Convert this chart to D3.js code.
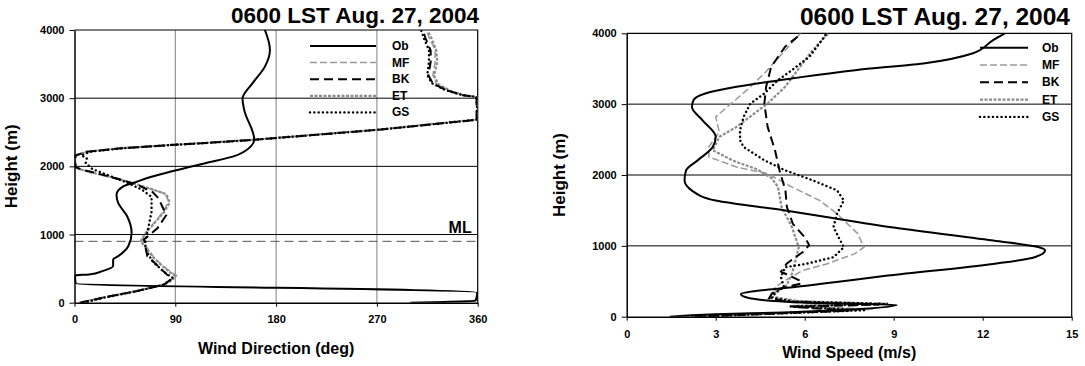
<!DOCTYPE html>
<html>
<head>
<meta charset="utf-8">
<style>
  body { margin: 0; background: #fff; }
  svg { display: block; font-family: "Liberation Sans", Arial, sans-serif; }
  .axis text { font-size: 11px; font-weight: bold; fill: #000; }
  .axis line { stroke: #000; }
  .axis path { stroke: #000; stroke-width: 1.5px; }
  .title { font-weight: bold; }
  .label { font-size: 16px; font-weight: bold; }
  .legend text { font-size: 12px; font-weight: bold; }
  .line { fill: none; }
</style>
</head>
<body>
<script src="https://d3js.org/d3.v7.min.js"></script>
<script>
// series order in the legends
var seriesNames = ["Ob", "MF", "BK", "ET", "GS"];

var heightTicks = [0, 1000, 2000, 3000, 4000];
var dirTicks = [0, 90, 180, 270, 360];
var speedTicks = [0, 3, 6, 9, 12, 15];
var mixedLayer = 900;   // ML height (m)

// wind direction (deg), height (m) -- raw 0..360 values, wraps drawn straight across like the original
var dirOb = [[300,0],[330,12],[358,30],[359,80],[359.5,150],[1,285],[0.5,400],[13,415],[25,463],[34.5,537],[34.5,634],[39,683],[48,829],[51,1024],[47,1268],[39,1463],[37.5,1585],[43.5,1707],[54.5,1766],[65,1829],[87,1927],[117.5,2049],[142,2146],[157.5,2293],[160.5,2390],[151.5,2829],[150,2990],[159,3220],[170,3463],[174.5,3707],[170,4000]];
var dirMF = [[4,2],[24,75],[55,175],[79,268],[86,330],[91,400],[82,500],[72,640],[66,780],[60,900],[62,1000],[70,1150],[79,1330],[84,1480],[81,1600],[70,1660],[53,1750],[36,1830],[18,1900],[3,1965],[0.5,2000],[0.5,2150],[11,2214],[41,2265],[85,2313],[112,2338],[161,2392],[272,2540],[359.5,2686],[359.5,2850],[359.5,3015],[348,3040],[335,3110],[323,3210],[320,3340],[322,3534],[322,3705],[317,3877],[314,4000]];
var dirBK = [[5,0],[25,72],[56,172],[80,266],[85,330],[84,390],[77.6,490],[68,640],[65,683],[62,927],[74,1091],[82,1286],[75,1531],[70,1620],[56,1730],[40,1810],[22,1890],[6,1955],[1,1990],[1,2160],[11,2214],[41,2264],[85,2312],[112,2337],[161,2390],[272,2537],[359,2683],[359,2850],[359,3018],[347,3042],[332,3115],[320,3215],[316,3335],[318,3530],[318,3700],[313.5,3875],[311,4000]];
var dirET = [[6,0],[26,72],[56,172],[80,266],[87,325],[90,390],[81,500],[71,650],[64,800],[59,900],[63,1010],[71,1160],[80,1330],[85,1470],[82,1590],[71,1655],[54,1745],[37,1825],[19,1895],[4,1960],[0.5,1990],[0.5,2160],[11,2216],[41,2266],[85,2314],[112,2339],[161,2393],[272,2541],[359.5,2688],[359.5,2850],[359.5,3010],[349,3036],[336,3105],[325,3205],[321,3330],[324,3534],[323,3700],[319,3870],[315,4000]];
var dirGS = [[8,0],[25,70],[56,170],[80,265],[84,320],[88,360],[80,450],[70,600],[64,760],[63,870],[65.8,1091],[68.8,1334],[68.8,1554],[60,1660],[47,1760],[30,1870],[16,1960],[10,2050],[11,2120],[6,2160],[14,2215],[41,2262],[85,2310],[112,2336],[161,2390],[272,2537],[359,2683],[359.5,2850],[358.5,3020],[346,3047],[331,3120],[319,3220],[315,3340],[316.5,3534],[316.5,3705],[312,3877],[309.5,4000]];

// wind speed (m/s), height (m)
var spdOb = [[1.45,0],[3.0,35],[5.3,60],[7.7,105],[9.1,165],[5.9,200],[4.05,270],[3.85,320],[4.4,365],[5.6,415],[6.5,460],[8.8,580],[12.35,745],[13.75,840],[14.1,935],[13.9,980],[12.35,1075],[8.85,1265],[5.35,1500],[3.0,1640],[2.2,1780],[1.95,1925],[2.0,2065],[2.4,2210],[2.9,2395],[3.0,2540],[2.55,2775],[2.2,2960],[2.25,3055],[2.65,3150],[3.7,3245],[5.6,3365],[7.7,3480],[10.0,3575],[11.65,3715],[12.35,3905],[12.75,4000]];
var spdMF = [[2.2,5],[5.0,45],[8.3,105],[5.8,150],[8.8,190],[6.0,215],[4.8,260],[5.0,330],[5.0,415],[5.34,510],[5.92,651],[6.74,745],[7.68,887],[8.0,981],[7.79,1170],[7.09,1453],[6.5,1642],[5.57,1830],[4.75,2019],[3.7,2113],[2.77,2255],[2.77,2396],[3.12,2608],[3.0,2821],[4.05,3198],[4.64,3434],[5.86,4000]];
var spdBK = [[2.3,0],[4.5,35],[7.5,85],[5.6,140],[8.5,170],[5.4,210],[4.8,260],[4.9,330],[5.2,400],[5.9,470],[5.8,518],[5.2,635],[5.4,753],[5.95,917],[6.15,1011],[6.0,1123],[5.6,1311],[5.4,1547],[5.35,1783],[5.15,2066],[5.0,2349],[4.75,2679],[4.64,3009],[4.7,3245],[4.87,3528],[5.34,3811],[5.9,4000]];
var spdET = [[2.0,0],[4.2,35],[7.8,95],[5.5,150],[8.0,185],[5.8,220],[4.9,280],[5.1,360],[5.4,450],[5.57,604],[5.69,792],[5.8,981],[5.57,1264],[5.22,1547],[5.1,1830],[4.9,1950],[4.4,2080],[3.6,2200],[2.9,2350],[3.12,2538],[3.7,2679],[4.75,3009],[5.34,3245],[6.27,3764],[6.8,4000]];
var spdGS = [[2.5,0],[4.8,40],[8.0,90],[5.5,145],[8.8,180],[5.6,215],[4.9,270],[5.0,340],[5.3,415],[5.2,557],[5.34,698],[6.04,745],[6.97,840],[7.32,981],[7.2,1075],[6.97,1264],[7.09,1453],[7.32,1642],[7.09,1783],[6.27,1925],[5.34,2066],[4.64,2208],[3.94,2396],[3.82,2491],[3.82,2632],[3.94,2821],[4.17,3009],[4.64,3151],[5.1,3340],[5.57,3481],[6.16,3670],[6.5,3858],[6.74,4000]];

var styles = {
  Ob: {stroke: "#000", width: 2, dash: null, cap: "butt"},
  MF: {stroke: "#9a9a9a", width: 1.5, dash: "7,3", cap: "butt"},
  BK: {stroke: "#000", width: 2, dash: "9,5", cap: "butt"},
  ET: {stroke: "#8c8c8c", width: 2.2, dash: "3,1.5", cap: "butt"},
  GS: {stroke: "#000", width: 2.4, dash: "0.1,4.2", cap: "round"}
};

var svg = d3.select("body").append("svg")
    .attr("width", 1085)
    .attr("height", 366);

function drawPanel(p) {
  var x = d3.scaleLinear().domain(p.xDomain).range([p.left, p.right]);
  var y = d3.scaleLinear().domain([0, 4000]).range([p.bottom, p.top]);
  var g = svg.append("g");

  g.append("clipPath").attr("id", p.id + "clip")
    .append("rect")
    .attr("x", p.left).attr("y", p.top)
    .attr("width", p.right - p.left).attr("height", p.bottom - p.top);

  // vertical grid (direction panel only)
  g.selectAll(".vgrid").data(p.vGrid).enter().append("line")
      .attr("x1", d => x(d)).attr("x2", d => x(d))
      .attr("y1", p.top).attr("y2", p.bottom)
      .attr("stroke", "#808080").attr("stroke-width", 1);

  // horizontal grid
  g.selectAll(".hgrid").data(heightTicks.slice(1, 4)).enter().append("line")
      .attr("x1", p.left).attr("x2", p.right)
      .attr("y1", d => y(d)).attr("y2", d => y(d))
      .attr("stroke", "#000").attr("stroke-width", 1);

  // top and right frame
  g.append("path")
      .attr("d", "M" + p.left + "," + y(4000) + "H" + x(p.xDomain[1]) + "V" + y(0))
      .attr("fill", "none").attr("stroke", "#000").attr("stroke-width", 1.2);

  if (p.ml) {
    g.append("line")
        .attr("x1", p.left).attr("x2", p.right)
        .attr("y1", y(mixedLayer)).attr("y2", y(mixedLayer))
        .attr("stroke", "#555").attr("stroke-width", 1)
        .attr("stroke-dasharray", "9,5");
    g.append("text")
        .attr("x", p.right - 6).attr("y", y(1000) - 2)
        .attr("text-anchor", "end")
        .style("font-size", "16px").style("font-weight", "bold")
        .text("ML");
  }

  // profiles, drawn back to front so Ob ends on top
  var order = ["MF", "ET", "GS", "BK", "Ob"];
  order.forEach(function(name) {
    var s = styles[name];
    // observed sounding is smooth (heights rise monotonically), model output is piecewise
    var line = d3.line()
        .x(d => x(d[0]))
        .y(d => y(d[1]))
        .curve(name == "Ob" ? d3.curveMonotoneY : d3.curveLinear);
    g.append("path")
        .datum(p.series[name])
        .attr("class", "line")
        .attr("clip-path", "url(#" + p.id + "clip)")
        .attr("d", line)
        .attr("stroke", s.stroke)
        .attr("stroke-width", s.width)
        .attr("stroke-dasharray", s.dash)
        .attr("stroke-linecap", s.cap);
  });

  // axes
  g.append("g")
      .attr("class", "axis")
      .attr("transform", "translate(" + p.left + ",0)")
      .call(d3.axisLeft(y).tickValues(heightTicks).tickSize(5).tickSizeOuter(0).tickPadding(5).tickFormat(d3.format("d")))
      .select(".domain").attr("stroke-width", 2);

  g.append("g")
      .attr("class", "axis")
      .attr("transform", "translate(0," + p.bottom + ")")
      .call(d3.axisBottom(x).tickValues(p.xTicks).tickSize(4).tickSizeOuter(0).tickPadding(p.xPad).tickFormat(d3.format("d")));

  // legend
  var lg = g.append("g").attr("class", "legend");
  seriesNames.forEach(function(name, i) {
    var s = styles[name];
    var ly = p.legend.y + i * p.legend.step;
    lg.append("line")
        .attr("x1", p.legend.x1).attr("x2", p.legend.x2)
        .attr("y1", ly).attr("y2", ly)
        .attr("stroke", s.stroke)
        .attr("stroke-width", s.width)
        .attr("stroke-dasharray", s.dash)
        .attr("stroke-linecap", s.cap);
    lg.append("text")
        .attr("x", p.legend.tx).attr("y", ly + 4)
        .text(name);
  });

  // titles
  g.append("text")
      .attr("class", "title")
      .attr("x", p.titleX).attr("y", p.titleY)
      .attr("text-anchor", "end")
      .style("font-size", p.titleSize + "px")
      .text("0600 LST Aug. 27, 2004");

  g.append("text")
      .attr("class", "label")
      .attr("x", (p.left + p.right) / 2).attr("y", p.xLabelY)
      .attr("text-anchor", "middle")
      .text(p.xLabel);

  g.append("text")
      .attr("class", "label")
      .attr("text-anchor", "middle")
      .attr("transform", "translate(" + p.yLabelX + "," + ((p.top + p.bottom) / 2) + ")rotate(-90)")
      .style("font-size", "17px")
      .text("Height (m)");
}

drawPanel({
  id: "dir",
  xDomain: [0, 360], left: 74.5, right: 477.7, top: 30, bottom: 302.7,
  xTicks: dirTicks, vGrid: [90, 180, 270], xPad: 9, ml: true,
  series: {Ob: dirOb, MF: dirMF, BK: dirBK, ET: dirET, GS: dirGS},
  legend: {x1: 310, x2: 376, tx: 392, y: 46, step: 16.6},
  titleX: 479, titleY: 23, titleSize: 22.5,
  xLabel: "Wind Direction (deg)", xLabelY: 354, yLabelX: 17
});

drawPanel({
  id: "spd",
  xDomain: [0, 15], left: 626.7, right: 1071.7, top: 33.3, bottom: 316.7,
  xTicks: speedTicks, vGrid: [], xPad: 10, ml: false,
  series: {Ob: spdOb, MF: spdMF, BK: spdBK, ET: spdET, GS: spdGS},
  legend: {x1: 980, x2: 1028, tx: 1042, y: 47.7, step: 17.3},
  titleX: 1070, titleY: 25, titleSize: 24.5,
  xLabel: "Wind Speed (m/s)", xLabelY: 358, yLabelX: 565
});
</script>
</body>
</html>
